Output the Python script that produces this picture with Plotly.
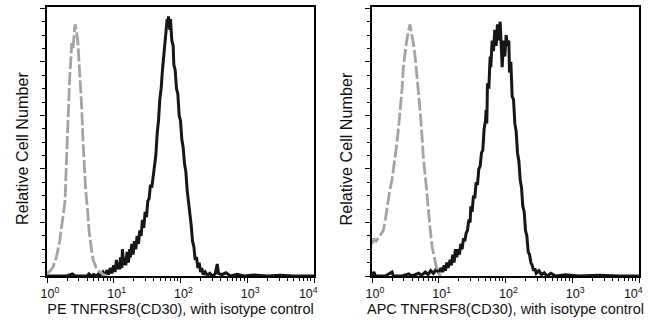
import plotly.graph_objects as go

# ---- data (x in log10 fluorescence units, y = relative cell number, % of max scale) ----
pe_iso_log = [0.0, 0.05, 0.09, 0.14, 0.19, 0.23, 0.27, 0.29, 0.30, 0.32, 0.34, 0.36, 0.37, 0.39, 0.41,
              0.42, 0.44, 0.46, 0.48, 0.50, 0.52, 0.54, 0.56, 0.58, 0.61, 0.63, 0.66, 0.69, 0.74, 0.79,
              0.85, 0.90]
pe_iso_cnt = [1, 2, 3.3, 7, 13, 20, 28, 42, 49, 62, 74, 82, 87, 85, 90,
              94, 92, 88, 80, 72, 63, 50, 40, 32, 24, 17, 11, 6, 3, 1.5,
              0.5, 0]

pe_cd30_log = [0.00, 0.30, 0.38, 0.42, 0.60, 0.63, 0.66, 0.70, 0.74, 0.78, 0.80, 0.84, 0.87, 0.90, 0.92,
               0.95, 0.97, 1.00, 1.02, 1.04, 1.05, 1.07, 1.09, 1.10, 1.12, 1.13, 1.15, 1.17, 1.18, 1.20,
               1.22, 1.24, 1.25, 1.27, 1.29, 1.31, 1.33, 1.35, 1.37, 1.39, 1.41, 1.43, 1.45, 1.47, 1.49,
               1.51, 1.53, 1.55, 1.57, 1.59, 1.61, 1.63, 1.65, 1.67, 1.69, 1.71, 1.73, 1.75, 1.77, 1.79,
               1.80, 1.81, 1.82, 1.84, 1.85, 1.87, 1.89, 1.90, 1.92, 1.94, 1.96, 1.98, 2.00, 2.02, 2.04,
               2.06, 2.08, 2.10, 2.12, 2.14, 2.16, 2.18, 2.20, 2.22, 2.24, 2.26, 2.28, 2.30, 2.32, 2.34,
               2.37, 2.40, 2.44, 2.48, 2.52, 2.55, 2.57, 2.62, 2.68, 2.75, 2.85, 2.95, 3.10, 3.30, 3.50,
               3.70, 4.00]
pe_cd30_cnt = [0, 0, 0.8, 0, 0, 0.8, 0, 0.6, 0, 1.0, 0, 1.5, 0.3, 2.2, 0.5,
               3.0, 1.0, 4.0, 1.5, 6, 2.5, 5, 2.5, 7, 3, 10, 4, 7, 4, 9,
               5, 10, 7, 12, 8, 13, 10, 15, 12, 17, 15, 21, 18, 24, 22,
               28, 29, 34, 33, 37, 41, 45, 53, 58, 66, 70, 77, 82, 88, 91,
               96, 93, 97, 92, 96, 88, 86, 79, 77, 70, 68, 60, 58, 51, 48,
               42, 39, 32, 28, 22, 19, 13, 11, 6, 7, 3, 5, 1.5, 3, 0.5,
               1.5, 0.3, 1, 0, 0.8, 4.5, 1, 0.5, 1.2, 0, 0.6, 0, 0.4, 0, 0.3,
               0, 0]

apc_iso_log = [0.0, 0.03, 0.06, 0.09, 0.12, 0.15, 0.17, 0.20, 0.22, 0.26, 0.30, 0.34, 0.37, 0.40, 0.43,
               0.45, 0.47, 0.49, 0.52, 0.55, 0.57, 0.59, 0.62, 0.65, 0.67, 0.70, 0.72, 0.75, 0.77, 0.80,
               0.82, 0.85, 0.87, 0.90, 0.92, 0.95, 0.97, 1.00, 1.03]
apc_iso_cnt = [12, 14, 13, 14, 15, 16, 17, 21, 25, 31, 36, 43, 49, 56, 64,
               70, 78, 83, 88, 92, 94, 91, 87, 81, 76, 68, 62, 52, 44, 37,
               31, 23, 18, 11, 8, 5, 3, 1, 0]

apc_cd30_log = [0.00, 0.03, 0.05, 0.20, 0.30, 0.32, 0.45, 0.55, 0.60, 0.70, 0.74, 0.80, 0.84, 0.88, 0.92,
                0.96, 1.00, 1.03, 1.06, 1.08, 1.10, 1.12, 1.14, 1.17, 1.19, 1.21, 1.23, 1.25, 1.27, 1.29,
                1.31, 1.33, 1.35, 1.37, 1.39, 1.41, 1.43, 1.45, 1.47, 1.48, 1.50, 1.52, 1.54, 1.56, 1.58,
                1.60, 1.62, 1.64, 1.66, 1.68, 1.70, 1.71, 1.72, 1.73, 1.75, 1.77, 1.78, 1.80, 1.82, 1.84,
                1.86, 1.88, 1.90, 1.92, 1.94, 1.95, 1.97, 1.99, 2.01, 2.03, 2.05, 2.06, 2.08, 2.10, 2.12,
                2.14, 2.16, 2.18, 2.20, 2.22, 2.24, 2.26, 2.28, 2.30, 2.32, 2.34, 2.36, 2.38, 2.40, 2.42,
                2.44, 2.46, 2.50, 2.54, 2.58, 2.62, 2.68, 2.75, 2.90, 3.10, 3.40, 3.70, 4.00]
apc_cd30_cnt = [0, 1.5, 0, 0, 1.5, 0, 0, 0.8, 0, 1, 0.3, 1.5, 0.5, 2, 1,
                2.5, 1.2, 3, 1.5, 4, 2, 5, 3, 6, 4, 8, 5, 10, 7, 10,
                8, 12, 10, 14, 13, 16, 17, 21, 20, 26, 24, 30, 29, 35, 34,
                40, 41, 46, 47, 55, 58, 62, 57, 72, 70, 82, 78, 88, 84, 92,
                86, 94, 88, 95, 84, 78, 88, 82, 90, 86, 88, 76, 80, 67, 66,
                57, 54, 46, 43, 36, 33, 26, 24, 17, 15, 9, 8, 5, 4, 2,
                2.8, 1, 2, 0.5, 1.2, 0, 1, 0, 0.5, 0, 0.3, 0, 0]

major_vals = [1, 10, 100, 1000, 10000]
major_text = ["10<sup>0</sup>", "10<sup>1</sup>", "10<sup>2</sup>", "10<sup>3</sup>", "10<sup>4</sup>"]
x_titles = ["PE TNFRSF8(CD30), with isotype control", "APC TNFRSF8(CD30), with isotype control"]
y_title = "Relative Cell Number"

GRAY = "#a3a3a3"
BLACK = "#161616"
FONT = "Liberation Sans, Arial, Helvetica, sans-serif"

fig = go.Figure()

panels = [(pe_iso_log, pe_iso_cnt, pe_cd30_log, pe_cd30_cnt),
          (apc_iso_log, apc_iso_cnt, apc_cd30_log, apc_cd30_cnt)]
for i, (gl, gc, bl, bc) in enumerate(panels):
    xa = "x" if i == 0 else "x2"
    ya = "y" if i == 0 else "y2"
    fig.add_trace(go.Scatter(x=[10 ** v for v in bl], y=bc, mode="lines",
                             line=dict(color=BLACK, width=3), xaxis=xa, yaxis=ya,
                             showlegend=False, hoverinfo="skip"))
    fig.add_trace(go.Scatter(x=[10 ** v for v in gl], y=gc, mode="lines",
                             line=dict(color=GRAY, width=2.8, dash="13px,3px"), xaxis=xa, yaxis=ya,
                             showlegend=False, hoverinfo="skip"))

minor_vals = [m * 10 ** k for k in range(4) for m in range(2, 10)]
# last label nudged left (kept inside the frame), as in the reference
tick_text = major_text[:-1] + [major_text[-1] + "\u00a0" * 5]

def xaxis(domain, title):
    return dict(type="log", range=[0, 4], domain=domain, showgrid=False, zeroline=False,
                automargin=False, ticklabeloverflow="allow",
                showline=True, linecolor="black", linewidth=1.6, mirror=True,
                ticks="outside", ticklen=5, tickwidth=1.2, tickcolor="black",
                tickvals=major_vals, ticktext=tick_text, ticklabelshift=3,
                tickfont=dict(family=FONT, size=12.5, color="#111"),
                minor=dict(tickvals=minor_vals, ticks="outside", ticklen=3, tickwidth=1, tickcolor="black"),
                title=dict(text=title, font=dict(family=FONT, size=14.5, color="#111"), standoff=3))

def yaxis(domain, anchor):
    return dict(range=[0, 100.5], domain=domain, anchor=anchor, showgrid=False, zeroline=False,
                automargin=False,
                showline=True, linecolor="black", linewidth=1.6, mirror=True,
                ticks="outside", ticklen=5, tickwidth=1.2, tickcolor="black",
                dtick=20, tick0=0, showticklabels=False,
                minor=dict(dtick=5, ticks="outside", ticklen=3, tickwidth=1, tickcolor="black"))

ydom = [46 / 322, 315 / 322]
W, H = 650, 322
fig.update_layout(
    width=W, height=H, margin=dict(l=0, r=0, t=0, b=0),
    paper_bgcolor="white", plot_bgcolor="white",
    xaxis=dict(xaxis([47 / W, 314 / W], x_titles[0]), anchor="y"),
    xaxis2=dict(xaxis([372 / W, 639 / W], x_titles[1]), anchor="y2"),
    yaxis=yaxis(ydom, "x"),
    yaxis2=yaxis(ydom, "x2"),
)

# y-axis titles (rotated), placed as in the reference
for xc in (22.5, 346):
    fig.add_annotation(text=y_title, textangle=-90, xref="paper", yref="paper",
                       x=xc / W, y=(H - 148.5) / H, xanchor="center", yanchor="middle",
                       showarrow=False, font=dict(family=FONT, size=16.2, color="#111"))

fig.write_html("out.html")
